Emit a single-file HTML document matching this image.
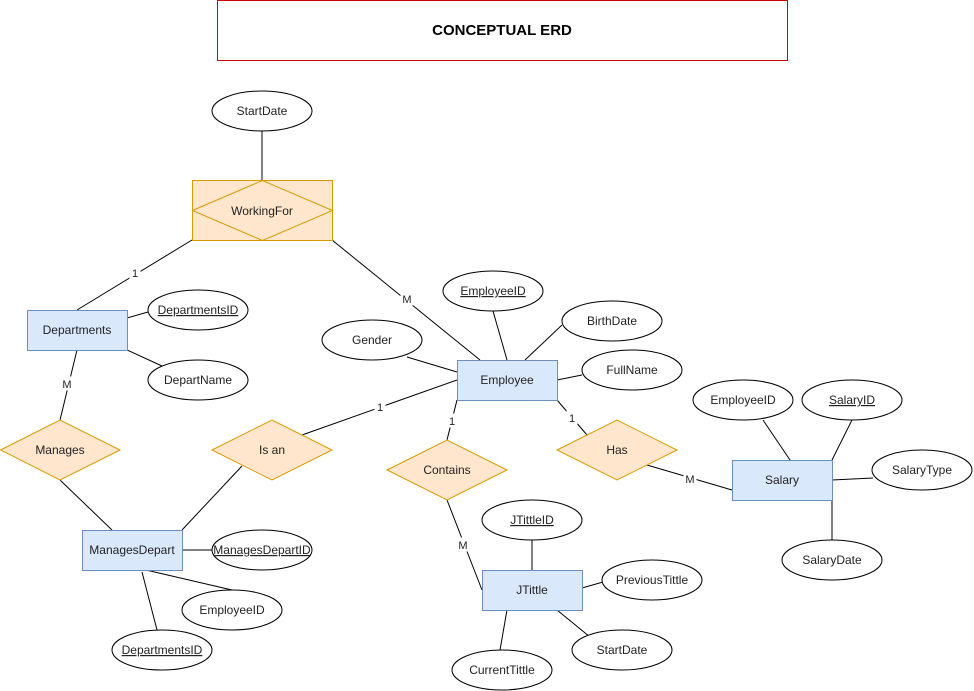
<!DOCTYPE html>
<html><head><meta charset="utf-8"><style>
html,body{margin:0;padding:0;background:#fff;}
svg{display:block;}
text{font-family:"Liberation Sans",Helvetica,sans-serif;font-size:12px;fill:#222;}
</style></head><body>
<svg width="974" height="691" viewBox="0 0 974 691" xmlns="http://www.w3.org/2000/svg">
<rect x="217.5" y="0.5" width="570" height="60" fill="#fff" stroke="#cc0000"/>
<text x="502" y="35" text-anchor="middle" style="font-weight:bold;font-size:15px;fill:#000">CONCEPTUAL ERD</text>

<g stroke="#000" stroke-width="1" fill="none">
<line x1="262" y1="131" x2="262" y2="180"/>
<line x1="192" y1="240" x2="77" y2="310"/>
<line x1="332" y1="240" x2="480" y2="360"/>
<line x1="127" y1="318" x2="148" y2="312"/>
<line x1="127" y1="350" x2="162" y2="366"/>
<line x1="77" y1="350" x2="60" y2="420"/>
<line x1="60" y1="480" x2="112" y2="530"/>
<line x1="182" y1="530" x2="242" y2="466"/>
<line x1="302" y1="435" x2="457" y2="380"/>
<line x1="182" y1="550" x2="212" y2="550"/>
<line x1="146" y1="570" x2="232" y2="590"/>
<line x1="142" y1="572" x2="157" y2="630"/>
<line x1="407" y1="357" x2="457" y2="372"/>
<line x1="493" y1="311" x2="507" y2="360"/>
<line x1="525" y1="360" x2="562" y2="325"/>
<line x1="557" y1="380" x2="582" y2="375"/>
<line x1="457" y1="400" x2="447" y2="440"/>
<line x1="447" y1="500" x2="482" y2="590"/>
<line x1="532" y1="540" x2="532" y2="570"/>
<line x1="582" y1="588" x2="603" y2="582"/>
<line x1="557" y1="610" x2="590" y2="637"/>
<line x1="507" y1="610" x2="500" y2="650"/>
<line x1="557" y1="400" x2="587" y2="435"/>
<line x1="647" y1="465" x2="732" y2="490"/>
<line x1="763" y1="420" x2="790" y2="460"/>
<line x1="852" y1="420" x2="832" y2="460"/>
<line x1="832" y1="480" x2="873" y2="478"/>
<line x1="832" y1="500" x2="832" y2="540"/>
</g>

<g fill="#fff" stroke="#fff">
<rect x="130" y="266" width="10" height="13"/>
<rect x="401" y="292" width="12" height="13"/>
<rect x="61" y="377" width="12" height="13"/>
<rect x="375" y="400" width="10" height="13"/>
<rect x="447" y="414" width="10" height="13"/>
<rect x="457" y="538" width="12" height="13"/>
<rect x="567" y="411" width="10" height="13"/>
<rect x="684" y="472" width="12" height="13"/>
</g>
<text x="135" y="277" text-anchor="middle" style="font-size:11px">1</text>
<text x="407" y="303" text-anchor="middle" style="font-size:11px">M</text>
<text x="67" y="388" text-anchor="middle" style="font-size:11px">M</text>
<text x="380" y="411" text-anchor="middle" style="font-size:11px">1</text>
<text x="452" y="425" text-anchor="middle" style="font-size:11px">1</text>
<text x="463" y="549" text-anchor="middle" style="font-size:11px">M</text>
<text x="572" y="422" text-anchor="middle" style="font-size:11px">1</text>
<text x="690" y="483" text-anchor="middle" style="font-size:11px">M</text>

<g fill="#ffe6cc" stroke="#d79b00">
<rect x="192.5" y="180.5" width="140" height="60"/>
<polygon points="192.5,210.5 262.5,180.5 332.5,210.5 262.5,240.5"/>
<polygon points="0.5,450 60,420 120,450 60,480"/>
<polygon points="212,450 272,420 332,450 272,480"/>
<polygon points="387,470 447,440 507,470 447,500"/>
<polygon points="557,450 617,420 677,450 617,480"/>
</g>
<text x="262" y="215" text-anchor="middle">WorkingFor</text>
<text x="60" y="454" text-anchor="middle">Manages</text>
<text x="272" y="454" text-anchor="middle">Is an</text>
<text x="447" y="474" text-anchor="middle">Contains</text>
<text x="617" y="454" text-anchor="middle">Has</text>

<g fill="#dae8fc" stroke="#6c8ebf">
<rect x="27.5" y="310.5" width="100" height="40"/>
<rect x="457.5" y="360.5" width="100" height="40"/>
<rect x="82.5" y="530.5" width="100" height="40"/>
<rect x="482.5" y="570.5" width="100" height="40"/>
<rect x="732.5" y="460.5" width="100" height="40"/>
</g>
<text x="77" y="334" text-anchor="middle">Departments</text>
<text x="507" y="384" text-anchor="middle">Employee</text>
<text x="132" y="554" text-anchor="middle">ManagesDepart</text>
<text x="532" y="594" text-anchor="middle">JTittle</text>
<text x="782" y="484" text-anchor="middle">Salary</text>

<g fill="#fff" stroke="#000">
<ellipse cx="262" cy="111" rx="50" ry="20"/>
<ellipse cx="198" cy="310" rx="50" ry="20"/>
<ellipse cx="198" cy="380" rx="50" ry="20"/>
<ellipse cx="262" cy="550" rx="50" ry="20"/>
<ellipse cx="232" cy="610" rx="50" ry="20"/>
<ellipse cx="162" cy="650" rx="50" ry="20"/>
<ellipse cx="372" cy="340" rx="50" ry="20"/>
<ellipse cx="493" cy="291" rx="50" ry="20"/>
<ellipse cx="612" cy="321" rx="50" ry="20"/>
<ellipse cx="632" cy="370" rx="50" ry="20"/>
<ellipse cx="532" cy="520" rx="50" ry="20"/>
<ellipse cx="652" cy="580" rx="50" ry="20"/>
<ellipse cx="622" cy="650" rx="50" ry="20"/>
<ellipse cx="502" cy="670" rx="50" ry="20"/>
<ellipse cx="743" cy="400" rx="50" ry="20"/>
<ellipse cx="852" cy="400" rx="50" ry="20"/>
<ellipse cx="922" cy="470" rx="50" ry="20"/>
<ellipse cx="832" cy="560" rx="50" ry="20"/>
</g>
<text x="262" y="115" text-anchor="middle">StartDate</text>
<text x="198" y="314" text-anchor="middle" text-decoration="underline">DepartmentsID</text>
<text x="198" y="384" text-anchor="middle">DepartName</text>
<text x="262" y="554" text-anchor="middle" text-decoration="underline">ManagesDepartID</text>
<text x="232" y="614" text-anchor="middle">EmployeeID</text>
<text x="162" y="654" text-anchor="middle" text-decoration="underline">DepartmentsID</text>
<text x="372" y="344" text-anchor="middle">Gender</text>
<text x="493" y="295" text-anchor="middle" text-decoration="underline">EmployeeID</text>
<text x="612" y="325" text-anchor="middle">BirthDate</text>
<text x="632" y="374" text-anchor="middle">FullName</text>
<text x="532" y="524" text-anchor="middle" text-decoration="underline">JTittleID</text>
<text x="652" y="584" text-anchor="middle">PreviousTittle</text>
<text x="622" y="654" text-anchor="middle">StartDate</text>
<text x="502" y="674" text-anchor="middle">CurrentTittle</text>
<text x="743" y="404" text-anchor="middle">EmployeeID</text>
<text x="852" y="404" text-anchor="middle" text-decoration="underline">SalaryID</text>
<text x="922" y="474" text-anchor="middle">SalaryType</text>
<text x="832" y="564" text-anchor="middle">SalaryDate</text>
</svg>
</body></html>
